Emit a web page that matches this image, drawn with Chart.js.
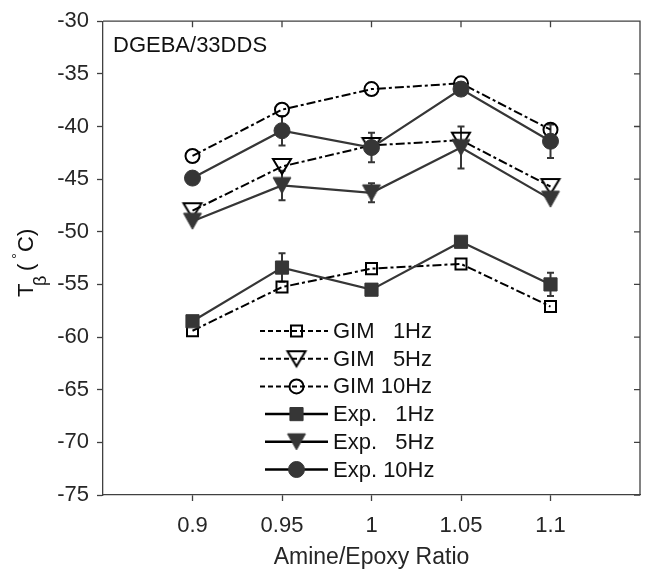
<!DOCTYPE html>
<html>
<head>
<meta charset="utf-8">
<script src="https://cdn.jsdelivr.net/npm/chart.js@4.4.1/dist/chart.umd.min.js"></script>
<style>
  body { margin: 0; background: #fff; }
  #wrap { width: 651px; height: 571px; }
</style>
</head>
<body>
<div id="wrap"><canvas id="tbChart" width="651" height="571"></canvas></div>
<script>
// Datos
const ratios = [0.9, 0.95, 1.0, 1.05, 1.1];
const xTicks = [0.9, 0.95, 1.0, 1.05, 1.1];
const xTickLabels = ['0.9', '0.95', '1', '1.05', '1.1'];
const yTicks = [-75, -70, -65, -60, -55, -50, -45, -40, -35, -30];

const gim1Hz  = [-59.4, -55.25, -53.5, -53.05, -57.1];
const gim5Hz  = [-48.0, -43.8, -41.8, -41.3, -45.7];
const gim10Hz = [-42.8, -38.4, -36.45, -35.9, -40.3];
const exp1Hz  = [-58.5, -53.4, -55.5, -50.95, -55.0];
const exp5Hz  = [-49.0, -45.6, -46.3, -42.0, -46.9];
const exp10Hz = [-44.9, -40.4, -42.0, -36.45, -41.4];

// barras de error (semi-ancho)
const exp1Err  = [0, 1.35, 0, 0, 1.1];
const exp5Err  = [0, 1.4, 0.9, 2.0, 0];
const exp10Err = [0, 1.4, 1.4, 0, 1.6];

const seriesLabels = ['GIM   1Hz', 'GIM   5Hz', 'GIM 10Hz', 'Exp.   1Hz', 'Exp.   5Hz', 'Exp. 10Hz'];

const FONT = '"Liberation Sans", Arial, sans-serif';
const GIM_COLOR = '#000000';
const EXP_COLOR = '#363636';
const GIM_DASH = [9, 3, 3, 3];

function pts(ys) {
    return ratios.map((x, i) => ({ x: x, y: ys[i] }));
}

// triangulo hacia abajo centrado en su caja (como el marcador 'v')
function downTriangle(fill, stroke, w, h, lw) {
    const c = document.createElement('canvas');
    c.width = w + 2 * lw + 2;
    c.height = h + 2 * lw + 2;
    const g = c.getContext('2d');
    const ox = (c.width - w) / 2, oy = (c.height - h) / 2;
    g.beginPath();
    g.moveTo(ox, oy);
    g.lineTo(ox + w, oy);
    g.lineTo(ox + w / 2, oy + h);
    g.closePath();
    if (fill) { g.fillStyle = fill; g.fill(); }
    g.lineWidth = lw;
    g.strokeStyle = stroke;
    g.stroke();
    return c;
}

const triOpen = downTriangle(null, GIM_COLOR, 18, 15, 2);
const triFilled = downTriangle(EXP_COLOR, EXP_COLOR, 18, 16, 1);

function gimSet(label, ys, style, radius) {
    return {
        label: label,
        data: pts(ys),
        borderColor: GIM_COLOR,
        borderWidth: 2,
        borderDash: GIM_DASH,
        pointStyle: style,
        pointRadius: radius,
        pointBorderWidth: 2,
        pointBorderColor: GIM_COLOR,
        pointBackgroundColor: 'rgba(0,0,0,0)',
        fill: false,
        tension: 0,
        order: 2
    };
}

function expSet(label, ys, style, radius, err) {
    return {
        label: label,
        data: pts(ys),
        errors: err,
        borderColor: EXP_COLOR,
        borderWidth: 2.2,
        pointStyle: style,
        pointRadius: radius,
        pointBorderWidth: 1,
        pointBorderColor: EXP_COLOR,
        pointBackgroundColor: EXP_COLOR,
        fill: false,
        tension: 0,
        order: 1
    };
}

const datasets = [
    gimSet(seriesLabels[0], gim1Hz, 'rect', 7.8),
    gimSet(seriesLabels[1], gim5Hz, triOpen, 9),
    gimSet(seriesLabels[2], gim10Hz, 'circle', 7),
    expSet(seriesLabels[3], exp1Hz, 'rect', 9.3, exp1Err),
    expSet(seriesLabels[4], exp5Hz, triFilled, 10, exp5Err),
    expSet(seriesLabels[5], exp10Hz, 'circle', 8, exp10Err)
];

// barras de error
const errorBars = {
    id: 'errorBars',
    beforeDatasetsDraw(chart) {
        const ctx = chart.ctx, ys = chart.scales.y, xs = chart.scales.x;
        ctx.save();
        ctx.strokeStyle = EXP_COLOR;
        ctx.lineWidth = 2;
        chart.data.datasets.forEach(ds => {
            if (!ds.errors) return;
            ds.data.forEach((p, i) => {
                const e = ds.errors[i];
                if (!e) return;
                const x = xs.getPixelForValue(p.x);
                const y1 = ys.getPixelForValue(p.y + e);
                const y2 = ys.getPixelForValue(p.y - e);
                ctx.beginPath();
                ctx.moveTo(x, y1); ctx.lineTo(x, y2);
                ctx.moveTo(x - 3.5, y1); ctx.lineTo(x + 3.5, y1);
                ctx.moveTo(x - 3.5, y2); ctx.lineTo(x + 3.5, y2);
                ctx.stroke();
            });
        });
        ctx.restore();
    }
};

function drawMarker(ctx, ds, x, y) {
    const st = ds.pointStyle, r = ds.pointRadius;
    ctx.save();
    ctx.fillStyle = ds.pointBackgroundColor;
    ctx.strokeStyle = ds.pointBorderColor;
    ctx.lineWidth = ds.pointBorderWidth;
    ctx.setLineDash([]);
    if (st instanceof HTMLCanvasElement) {
        ctx.drawImage(st, x - st.width / 2, y - st.height / 2);
    } else {
        ctx.beginPath();
        if (st === 'circle') {
            ctx.arc(x, y, r, 0, Math.PI * 2);
        } else {
            const s = r * Math.SQRT1_2;
            ctx.rect(x - s, y - s, 2 * s, 2 * s);
        }
        ctx.fill();
        ctx.stroke();
    }
    ctx.restore();
}

// marco, ticks interiores, leyenda y textos
const decorations = {
    id: 'decorations',
    afterDraw(chart) {
        const ctx = chart.ctx, a = chart.chartArea;
        const xs = chart.scales.x, ys = chart.scales.y;
        ctx.save();
        ctx.strokeStyle = '#404040';
        ctx.lineWidth = 1.3;
        ctx.beginPath();
        ctx.moveTo(a.left, a.top); ctx.lineTo(a.right, a.top); ctx.lineTo(a.right, a.bottom);
        xTicks.forEach(v => {
            const x = xs.getPixelForValue(v);
            ctx.moveTo(x, a.top); ctx.lineTo(x, a.top + 6);
        });
        yTicks.forEach(v => {
            const y = ys.getPixelForValue(v);
            ctx.moveTo(a.right, y); ctx.lineTo(a.right - 6, y);
        });
        ctx.stroke();

        // texto DGEBA
        ctx.fillStyle = '#111';
        ctx.font = '22px ' + FONT;
        ctx.textBaseline = 'alphabetic';
        ctx.textAlign = 'left';
        ctx.fillText('DGEBA/33DDS', 113, 52);

        // leyenda
        chart.data.datasets.forEach((ds, k) => {
            const y = 331 + k * 27.7;
            const isGim = k < 3;
            ctx.save();
            ctx.strokeStyle = '#000';
            ctx.lineWidth = isGim ? 2 : 2.5;
            ctx.setLineDash(isGim ? [5, 3] : []);
            ctx.beginPath();
            ctx.moveTo(isGim ? 260 : 265, y);
            ctx.lineTo(328, y);
            ctx.stroke();
            ctx.restore();
            drawMarker(ctx, ds, 296.5, y);
            ctx.fillStyle = '#111';
            ctx.font = '22px ' + FONT;
            ctx.textBaseline = 'middle';
            ctx.fillText(ds.label, 333, y + 1);
        });

        // titulo eje y: T_beta(°C)
        ctx.save();
        ctx.translate(33, 297);
        ctx.rotate(-Math.PI / 2);
        ctx.fillStyle = '#111';
        ctx.textBaseline = 'alphabetic';
        ctx.font = '22px ' + FONT;
        ctx.fillText('T', 0, 0);
        ctx.font = '18px ' + FONT;
        ctx.fillText('\u03B2', 11, 13);
        ctx.font = '22px ' + FONT;
        ctx.fillText('(', 26, 0);
        ctx.font = '15px ' + FONT;
        ctx.fillText('\u00B0', 38, -11);
        ctx.font = '22px ' + FONT;
        ctx.fillText('C', 45, 0);
        ctx.fillText(')', 61, 0);
        ctx.restore();

        ctx.restore();
    }
};

const ctxTb = document.getElementById('tbChart').getContext('2d');

const tbChart = new Chart(ctxTb, {
    type: 'line',
    data: { datasets: datasets },
    options: {
        responsive: false,
        devicePixelRatio: 1,
        animation: false,
        layout: { padding: { top: 19, right: 5, left: 0, bottom: 0 } },
        plugins: {
            legend: { display: false },
            tooltip: { enabled: false }
        },
        scales: {
            x: {
                type: 'linear',
                min: 0.85,
                max: 1.15,
                afterBuildTicks: s => { s.ticks = xTicks.map(v => ({ value: v })); },
                afterFit: s => { s.height = 76; },
                ticks: {
                    callback: (v, i) => xTickLabels[i],
                    font: { size: 22, family: FONT },
                    color: '#262626',
                    padding: 12,
                    maxRotation: 0,
                    autoSkip: false
                },
                grid: { drawOnChartArea: false, drawTicks: true, tickLength: 6, color: '#404040', tickWidth: 1.3 },
                border: { display: true, color: '#404040', width: 1.3 },
                title: {
                    display: true,
                    text: 'Amine/Epoxy Ratio',
                    font: { size: 23, family: FONT },
                    color: '#262626',
                    padding: { top: 0, bottom: 0 }
                }
            },
            y: {
                type: 'linear',
                min: -75,
                max: -30,
                afterBuildTicks: s => { s.ticks = yTicks.map(v => ({ value: v })); },
                afterFit: s => { s.width = 103; },
                ticks: {
                    font: { size: 22, family: FONT },
                    color: '#262626',
                    padding: 8
                },
                grid: { drawOnChartArea: false, drawTicks: true, tickLength: 6, color: '#404040', tickWidth: 1.3 },
                border: { display: true, color: '#404040', width: 1.3 }
            }
        }
    },
    plugins: [errorBars, decorations]
});
</script>
</body>
</html>
